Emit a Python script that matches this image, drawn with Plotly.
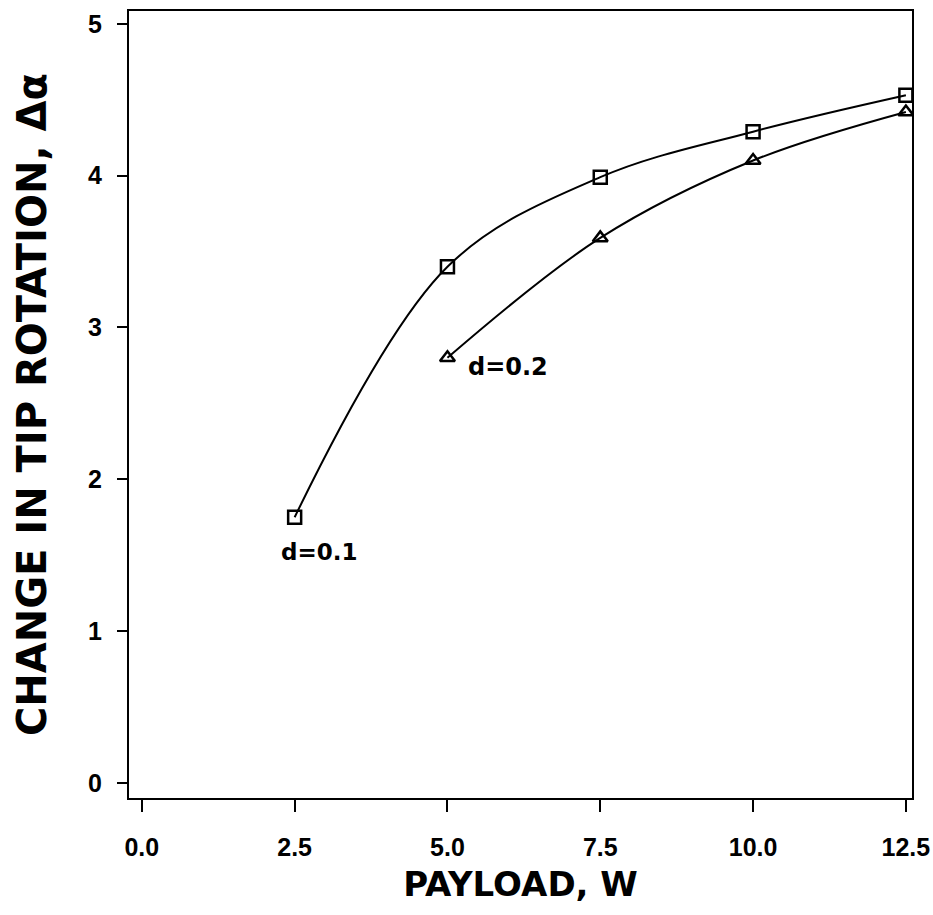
import plotly.graph_objects as go

# Data
payload_d01 = [2.5, 5.0, 7.5, 10.0, 12.5]
rotation_d01 = [1.75, 3.40, 3.99, 4.29, 4.53]
payload_d02 = [5.0, 7.5, 10.0, 12.5]
rotation_d02 = [2.80, 3.59, 4.10, 4.42]

x_ticks = [0.0, 2.5, 5.0, 7.5, 10.0, 12.5]
x_tick_labels = ["0.0", "2.5", "5.0", "7.5", "10.0", "12.5"]
y_ticks = [0, 1, 2, 3, 4, 5]

FONT = "DejaVu Sans"
TICK_FONT = "Liberation Sans"

fig = go.Figure()
fig.add_trace(go.Scatter(
    x=payload_d01, y=rotation_d01, mode="lines+markers",
    line=dict(color="black", width=2, shape="spline", smoothing=1.0),
    marker=dict(symbol="square-open", size=13, color="black", line=dict(width=2.5)),
    showlegend=False,
))
fig.add_trace(go.Scatter(
    x=payload_d02, y=rotation_d02, mode="lines+markers",
    line=dict(color="black", width=2, shape="spline", smoothing=1.0),
    marker=dict(symbol="triangle-up-open", size=13, color="black", line=dict(width=2.5)),
    showlegend=False,
))

fig.add_annotation(x=2.25, y=1.52, text="<b>d=0.1</b>", showarrow=False,
                   xanchor="left", font=dict(family=FONT, size=23, color="black"))
fig.add_annotation(x=5.3, y=2.74, text="<b>d=0.2</b>", showarrow=False,
                   xanchor="left", font=dict(family=FONT, size=24, color="black"))

fig.update_layout(
    width=933, height=915,
    margin=dict(l=129, r=21, t=11, b=117, autoexpand=False),
    paper_bgcolor="white", plot_bgcolor="white",
    font=dict(family=FONT, color="black"),
)
fig.update_xaxes(
    range=[-0.21, 12.6], tickvals=x_ticks, ticktext=[f"<b>{t}</b>" for t in x_tick_labels],
    ticks="outside", ticklen=12, tickwidth=2, tickcolor="black",
    ticklabeloverflow="allow", ticklabelstandoff=14, automargin=False,
    showline=True, linecolor="black", linewidth=2, mirror=True,
    showgrid=False, zeroline=False,
    tickfont=dict(family=TICK_FONT, size=25, color="black"),
    title=dict(text="<b>PAYLOAD, W</b>", font=dict(family=FONT, size=34, color="black"), standoff=12),
)
fig.update_yaxes(
    range=[-0.1, 5.085], tickvals=y_ticks, ticktext=[f"<b>{t}</b>" for t in y_ticks],
    ticks="outside", ticklen=10, tickwidth=2, tickcolor="black",
    ticklabelstandoff=10, automargin=False,
    showline=True, linecolor="black", linewidth=2, mirror=True,
    showgrid=False, zeroline=False,
    tickfont=dict(family=TICK_FONT, size=25, color="black"),
    title=dict(text="<b>CHANGE IN TIP ROTATION, Δα</b>", font=dict(family=FONT, size=40, color="black"), standoff=29),
)

fig.write_html("out.html")
